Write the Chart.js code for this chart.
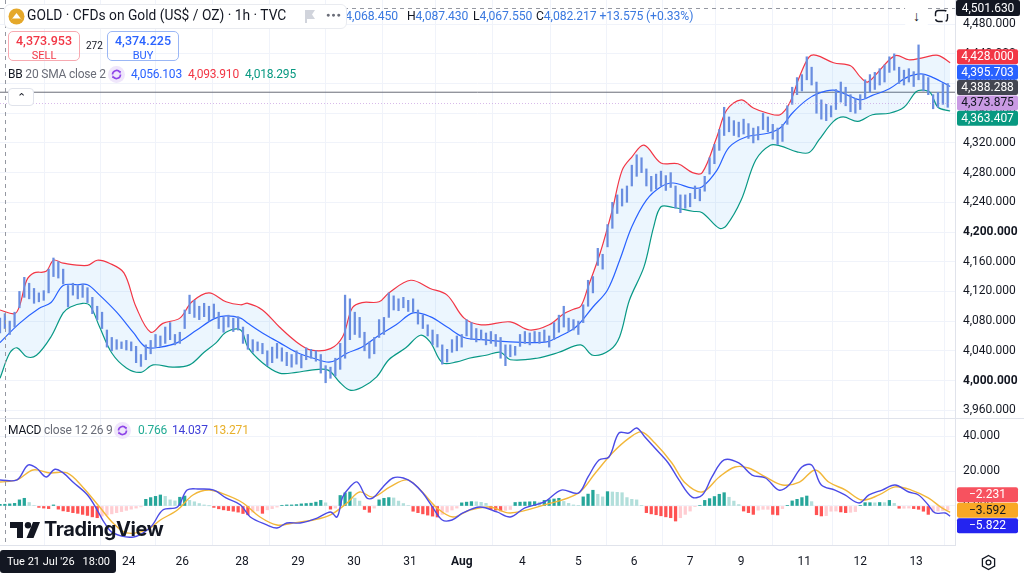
<!DOCTYPE html>
<html>
<head>
<meta charset="utf-8">
<script src="https://cdn.jsdelivr.net/npm/chart.js@4.4.1/dist/chart.umd.min.js"></script>
<style>
html,body{margin:0;padding:0;background:#fff;}
body{width:1024px;height:579px;overflow:hidden;position:relative;font-family:Roboto,"Noto Sans",sans-serif;color:#131722;}
canvas{position:absolute;left:0;}
#c1{top:0;width:1024px;height:418px;}
#c2{top:418px;width:1024px;height:161px;}
.ov{position:absolute;white-space:nowrap;line-height:1;}
.lg{font-size:12px;letter-spacing:-0.2px;}
.blue{color:#2962ff;}
.red{color:#f23645;}
.green{color:#089981;}
.gray{color:#6a6d78;}
.ohlc{font-size:12.2px;letter-spacing:-0.1px;}
.ohlc span{color:#3a79e0;}
</style>
</head>
<body>
<canvas id="c1" width="1024" height="418"></canvas>
<canvas id="c2" width="1024" height="161"></canvas>

<!-- OHLC legend (partly under title box) -->
<div class="ov ohlc" style="left:337px;top:10px;">O<span>4,068.450</span></div>
<div class="ov ohlc" style="left:407px;top:10px;">H<span>4,087.430</span></div>
<div class="ov ohlc" style="left:473px;top:10px;">L<span>4,067.550</span></div>
<div class="ov ohlc" style="left:536px;top:10px;">C<span>4,082.217</span>&nbsp;<span>+13.575 (+0.33%)</span></div>

<!-- title box -->
<div class="ov" style="left:4px;top:4px;width:341px;height:23px;background:#fff;border:1px solid #e9ebf0;border-radius:6px;"></div>
<svg class="ov" style="left:8px;top:8px;" width="17" height="17" viewBox="0 0 17 17">
  <circle cx="8.5" cy="8.5" r="8" fill="#e5a82a"/>
  <path d="M3.5 11.5 L8.5 5 L13.5 11.5 Z" fill="#fff"/>
  <rect x="4" y="10.5" width="9" height="1.6" fill="#e5a82a"/>
</svg>
<div class="ov" style="left:27px;top:9px;font-size:13.8px;color:#131722;">GOLD · CFDs on Gold (US$ / OZ) · 1h · TVC</div>
<svg class="ov" style="left:304px;top:10px;" width="12" height="13" viewBox="0 0 12 13"><path d="M1 0 H11 L8 4.5 L11 9 H3 V13 H1 Z" fill="#d1d4dc"/></svg>
<div class="ov" style="left:326px;top:12px;font-size:7px;color:#6a6d78;letter-spacing:1px;">&#9679;&#9679;&#9679;</div>

<!-- sell / buy -->
<div class="ov" style="left:8px;top:31px;width:70px;height:28px;border:1px solid #f7a9b0;border-radius:5px;text-align:center;">
  <div style="font-size:12.5px;color:#f23645;margin-top:3px;font-weight:500;">4,373.953</div>
  <div style="font-size:11px;color:#f23645;margin-top:2px;">SELL</div>
</div>
<div class="ov" style="left:86px;top:41px;font-size:10px;color:#131722;">272</div>
<div class="ov" style="left:107px;top:31px;width:70px;height:28px;border:1px solid #9bb7f5;border-radius:5px;text-align:center;">
  <div style="font-size:12.5px;color:#2962ff;margin-top:3px;font-weight:500;">4,374.225</div>
  <div style="font-size:11px;color:#2962ff;margin-top:2px;">BUY</div>
</div>

<!-- BB legend -->
<div class="ov lg" style="left:8px;top:68px;"><span style="color:#131722">BB</span> <span class="gray">20 SMA close 2</span></div>
<svg class="ov" style="left:108px;top:66px;" width="17" height="17" viewBox="0 0 17 17">
  <circle cx="8.5" cy="8.5" r="8.5" fill="#efe6fb"/>
  <path d="M4.5 8.5 A4 4 0 0 1 11.8 6.2" fill="none" stroke="#8e44e8" stroke-width="1.6"/>
  <path d="M12.5 8.5 A4 4 0 0 1 5.2 10.8" fill="none" stroke="#8e44e8" stroke-width="1.6"/>
  <path d="M10.2 4.6 L13 5.2 L12.2 7.9 Z" fill="#8e44e8"/>
  <path d="M6.8 12.4 L4 11.8 L4.8 9.1 Z" fill="#8e44e8"/>
</svg>
<div class="ov lg" style="left:131px;top:68px;"><span class="blue">4,056.103</span></div>
<div class="ov lg" style="left:188px;top:68px;"><span class="red">4,093.910</span></div>
<div class="ov lg" style="left:245px;top:68px;"><span class="green">4,018.295</span></div>

<!-- collapse button -->
<div class="ov" style="left:8px;top:88px;width:24px;height:16px;background:#fff;border:1px solid #e0e3eb;border-radius:4px;text-align:center;font-size:11px;line-height:18px;color:#131722;">&#8963;</div>

<!-- MACD legend -->
<div class="ov lg" style="left:8px;top:424px;"><span style="color:#131722">MACD</span> <span class="gray">close 12 26 9</span></div>
<svg class="ov" style="left:114px;top:422px;" width="17" height="17" viewBox="0 0 17 17">
  <circle cx="8.5" cy="8.5" r="8.5" fill="#efe6fb"/>
  <path d="M4.5 8.5 A4 4 0 0 1 11.8 6.2" fill="none" stroke="#8e44e8" stroke-width="1.6"/>
  <path d="M12.5 8.5 A4 4 0 0 1 5.2 10.8" fill="none" stroke="#8e44e8" stroke-width="1.6"/>
  <path d="M10.2 4.6 L13 5.2 L12.2 7.9 Z" fill="#8e44e8"/>
  <path d="M6.8 12.4 L4 11.8 L4.8 9.1 Z" fill="#8e44e8"/>
</svg>
<div class="ov lg" style="left:138px;top:424px;"><span style="color:#22ab94">0.766</span></div>
<div class="ov lg" style="left:172px;top:424px;"><span style="color:#3f3fd8">14.037</span></div>
<div class="ov lg" style="left:213px;top:424px;"><span style="color:#e8b02a">13.271</span></div>

<!-- TradingView watermark -->
<svg class="ov" style="left:10px;top:522px;" width="31" height="16" viewBox="0 0 31 16">
  <path d="M0 0 H13 V16 H7 V6 H0 Z" fill="#131722"/>
  <circle cx="18" cy="3.2" r="3.2" fill="#131722"/>
  <path d="M23 0 H30 L23.5 16 H16.5 Z" fill="#131722"/>
</svg>
<div class="ov" style="left:44px;top:519px;font-size:20px;font-weight:700;font-family:Inter,Roboto,sans-serif;letter-spacing:-0.4px;color:#131722;">TradingView</div>

<!-- top right buttons -->
<div class="ov" style="left:905px;top:5px;width:23px;height:22px;background:#fff;border-radius:4px;text-align:center;font-size:14px;line-height:22px;color:#131722;">&#8595;</div>
<svg class="ov" style="left:934px;top:9px;" width="15" height="14" viewBox="0 0 15 14"><rect x="1.5" y="1.5" width="12" height="11" rx="3" fill="none" stroke="#131722" stroke-width="1.4" stroke-dasharray="8 3"/></svg>

<!-- gear -->
<svg class="ov" style="left:980px;top:554px;" width="17" height="17" viewBox="0 0 17 17">
  <path d="M8.5 1.5 L14.6 5 V12 L8.5 15.5 L2.4 12 V5 Z" fill="none" stroke="#131722" stroke-width="1.3"/>
  <circle cx="8.5" cy="8.5" r="2.4" fill="none" stroke="#131722" stroke-width="1.3"/>
</svg>

<script>
// ---------------- DATA ----------------
const dayTicks = [7, 30, 53, 75, 99.6, 122.6, 145.7, 168.7, 190, 215, 238, 261, 284, 305, 331, 354, 377];
const dayLabels = ['22','23','24','26','28','29','30','31','Aug','4','5','6','7','9','11','12','13'];
const priceTicks = [3960,4000,4040,4080,4120,4160,4200,4240,4280,4320,4360,4400,4440,4480];
const macdTicks = [0, 20, 40];

// price bars: [hour index, low, high]
const priceBars = [[0,4064,4084],[2,4070,4090],[4,4062,4080],[6,4072,4092],[8,4098,4120],[10,4112,4139],[12,4110,4131],[14,4104,4124],[16,4106,4118],[18,4108,4121],[20,4118,4150],[22,4140,4165],[24,4138,4160],[26,4130,4150],[28,4099,4128],[30,4115,4131],[32,4110,4128],[34,4112,4130],[36,4105,4125],[38,4090,4112],[40,4082,4100],[42,4070,4092],[44,4045,4068],[46,4040,4058],[48,4042,4055],[50,4043,4052],[52,4041,4054],[54,4040,4052],[56,4024,4046],[58,4019,4035],[60,4028,4048],[62,4036,4054],[64,4045,4062],[66,4046,4060],[68,4050,4072],[70,4055,4078],[72,4048,4062],[74,4050,4065],[76,4070,4095],[78,4090,4115],[80,4085,4108],[82,4082,4100],[84,4086,4104],[86,4080,4100],[88,4084,4103],[90,4070,4092],[92,4065,4085],[94,4072,4088],[96,4066,4084],[98,4068,4086],[100,4050,4072],[102,4042,4062],[104,4038,4055],[106,4040,4052],[108,4036,4050],[110,4020,4040],[112,4024,4045],[114,4030,4050],[116,4026,4044],[118,4020,4038],[120,4018,4035],[122,4022,4040],[124,4017,4034],[126,4028,4044],[128,4030,4042],[130,4026,4040],[132,4010,4035],[134,3997,4020],[136,4003,4018],[138,4006,4030],[140,4015,4050],[142,4030,4115],[144,4055,4110],[146,4062,4092],[148,4058,4085],[150,4040,4065],[152,4030,4052],[154,4036,4058],[156,4058,4082],[158,4062,4085],[160,4085,4118],[162,4095,4114],[164,4094,4110],[166,4098,4112],[168,4093,4108],[170,4092,4110],[172,4076,4095],[174,4070,4088],[176,4060,4075],[178,4048,4068],[180,4045,4062],[182,4022,4048],[184,4025,4042],[186,4038,4055],[188,4040,4060],[190,4045,4062],[192,4060,4082],[194,4055,4078],[196,4052,4070],[198,4055,4068],[200,4048,4064],[202,4050,4066],[204,4046,4062],[206,4030,4058],[208,4020,4048],[210,4032,4048],[212,4034,4046],[214,4046,4062],[216,4050,4066],[218,4048,4064],[220,4052,4066],[222,4050,4065],[224,4052,4068],[226,4045,4060],[228,4055,4078],[230,4065,4088],[232,4072,4100],[234,4066,4084],[236,4068,4082],[238,4062,4080],[240,4078,4102],[242,4100,4135],[244,4118,4140],[246,4155,4178],[248,4150,4170],[250,4180,4210],[252,4205,4240],[254,4225,4250],[256,4235,4258],[258,4240,4262],[260,4262,4290],[262,4275,4304],[264,4280,4300],[266,4262,4285],[268,4255,4275],[270,4258,4278],[272,4262,4282],[274,4256,4276],[276,4260,4280],[278,4232,4262],[280,4226,4250],[282,4232,4250],[284,4234,4252],[286,4245,4262],[288,4242,4258],[290,4255,4275],[292,4278,4300],[294,4292,4318],[296,4310,4338],[298,4330,4368],[300,4335,4355],[302,4330,4350],[304,4328,4348],[306,4332,4352],[308,4326,4346],[310,4320,4340],[312,4324,4342],[314,4338,4360],[316,4335,4355],[318,4325,4345],[320,4318,4340],[322,4322,4345],[324,4345,4370],[326,4372,4395],[328,4385,4408],[330,4390,4412],[332,4405,4436],[334,4398,4422],[336,4360,4402],[338,4352,4378],[340,4350,4372],[342,4355,4370],[344,4365,4392],[346,4375,4402],[348,4370,4395],[350,4362,4385],[352,4360,4380],[354,4365,4385],[356,4380,4405],[358,4388,4412],[360,4392,4415],[362,4398,4420],[364,4402,4425],[366,4415,4436],[368,4418,4440],[370,4400,4422],[372,4398,4418],[374,4402,4420],[376,4396,4416],[378,4405,4452],[380,4390,4412],[382,4385,4408],[384,4366,4385],[386,4368,4388],[388,4372,4400],[390,4368,4400]];

// Bollinger bands: [hour index, value]
const upperBand = [[0,4095],[6,4090],[8,4100],[11,4135],[14,4145],[19,4147],[22,4162],[26,4158],[36,4155],[40,4162],[45,4158],[51,4145],[56,4099],[62,4065],[67,4077],[74,4084],[79,4106],[86,4118],[93,4106],[99,4102],[102,4104],[108,4095],[115,4072],[122,4052],[128,4041],[136,4043],[141,4059],[145,4098],[149,4105],[156,4106],[160,4118],[169,4135],[177,4124],[184,4115],[191,4084],[198,4075],[210,4079],[218,4068],[226,4075],[232,4090],[236,4096],[239,4100],[242,4126],[247,4172],[252,4230],[256,4283],[260,4301],[265,4317],[272,4293],[279,4292],[285,4280],[289,4280],[295,4328],[299,4364],[305,4378],[310,4367],[316,4360],[321,4358],[325,4374],[329,4409],[333,4436],[336,4438],[343,4428],[350,4424],[354,4409],[357,4402],[361,4414],[366,4432],[369,4438],[374,4432],[380,4435],[386,4438],[391,4428]];
const middleBand = [[0,4051],[8,4077],[16,4097],[21,4105],[26,4128],[32,4129],[36,4129],[41,4115],[48,4092],[55,4064],[60,4045],[66,4045],[73,4051],[81,4068],[88,4083],[93,4087],[99,4084],[102,4077],[108,4064],[115,4051],[122,4038],[129,4030],[136,4025],[143,4037],[149,4045],[156,4061],[163,4075],[170,4091],[177,4086],[184,4072],[191,4058],[198,4055],[210,4052],[218,4051],[225,4052],[230,4059],[237,4072],[244,4099],[250,4122],[255,4162],[260,4207],[266,4243],[272,4261],[277,4266],[285,4259],[289,4261],[295,4283],[300,4314],[307,4328],[316,4333],[321,4340],[326,4360],[332,4378],[337,4387],[343,4391],[349,4384],[354,4378],[359,4384],[366,4393],[373,4408],[379,4413],[384,4408],[391,4396]];
const lowerBand = [[0,4003],[4,4037],[7,4044],[11,4032],[15,4034],[21,4059],[26,4091],[29,4099],[34,4104],[37,4101],[41,4072],[46,4037],[52,4017],[58,4011],[63,4021],[71,4018],[78,4021],[84,4038],[89,4051],[93,4065],[99,4068],[102,4045],[108,4024],[115,4010],[122,4011],[128,4014],[135,4014],[140,3997],[144,3987],[149,3991],[155,4005],[160,4028],[167,4044],[173,4061],[177,4052],[182,4024],[188,4025],[193,4030],[200,4034],[206,4038],[210,4028],[221,4030],[230,4038],[239,4048],[244,4034],[251,4041],[255,4059],[259,4108],[265,4153],[269,4207],[272,4234],[277,4233],[285,4228],[289,4226],[296,4205],[299,4209],[305,4243],[311,4297],[317,4317],[321,4316],[328,4308],[333,4307],[337,4324],[343,4349],[347,4355],[353,4349],[359,4358],[366,4360],[372,4368],[377,4389],[380,4391],[383,4387],[386,4368],[391,4363]];

// MACD (12,26,9): [hour index, value]
const macdLine = [[0,14.9],[7,14.9],[11.5,23.4],[15,21.7],[19,16.6],[22.6,21],[26,18.9],[30,13.7],[36,6.3],[40,-2.3],[43,-9.7],[46.5,-15.4],[55,-17.7],[62,-12],[67,-2.3],[73,-0.6],[77,9.1],[82,9.7],[88,9.1],[93,4.6],[99,0.6],[103,-6.3],[110,-10.9],[114,-12.6],[118,-9.7],[123.5,-9.7],[130.5,-6.9],[136,-3.4],[138.7,-6.3],[141,5.1],[144,10.9],[147,13.7],[151,4.6],[153.5,4.6],[157.6,10.9],[161.7,16],[166,16],[170,13.1],[174,7.4],[178,-0.6],[182,-8],[186,-8],[190.5,-4],[197.5,-0.6],[204.5,-3.4],[210,-6.3],[216,-1.1],[224,2.3],[231,9.1],[238,7.4],[242,16.6],[246.5,26.3],[250.6,28],[254.7,41.7],[258.8,41.7],[262,44.6],[265.4,39.4],[269.5,33.1],[275,24.6],[279.4,14.9],[284.8,5.1],[289,6.3],[293,16.6],[298,26.3],[304,24.6],[309.5,17.7],[315,16],[320.5,9.1],[324.7,12],[330,22.3],[334,23.4],[338,12],[343.6,9.1],[347.7,6.3],[353.5,1.7],[357.6,6.3],[363,9.1],[368.3,12],[374,8],[378,6.3],[382,0.6],[384.8,-4],[389,-4],[391,-5.822]];
const signalLine = [[0,13.7],[7,14.9],[13.6,20.6],[20.6,18.9],[27.6,18.9],[34,10.9],[41,-0.6],[46.5,-9.7],[52,-15.4],[60.5,-13.7],[66,-8],[73,-2.3],[79.4,6.3],[86,9.1],[93,6.3],[100,1.7],[107,-6.3],[114,-10.9],[120.6,-9.7],[129,-8],[136,-5.1],[142.8,1.7],[148,8],[153.5,5.1],[160.5,10.9],[167.5,14.9],[173,9.1],[179.8,-1.1],[186.4,-6.3],[193.4,-2.3],[201.6,-0.6],[210,-4],[224,0.6],[238,7.4],[245,18.9],[252,30.3],[259,38.9],[264,42.3],[269.5,36],[276.5,24.6],[282,13.1],[289,8],[296,16.6],[302.5,22.3],[308,21.7],[315,16.6],[322,12],[329,13.7],[335.5,20.6],[341,13.7],[348,9.1],[354.7,3.4],[361.7,6.3],[368.3,10.9],[375,9.1],[382,4.6],[387.6,-1.1],[391,-3.592]];
const macdHist = [[0,1],[2,1],[4,1.2],[6,1.5],[8,3.5],[10,4.4],[12,2],[14,0.3],[16,-0.8],[18,-1.2],[20,-1.5],[22,0.6],[24,-1.8],[26,-2.8],[28,-3.2],[30,-3.8],[32,-4.2],[34,-4.8],[36,-5.4],[38,-6.2],[40,-6.7],[42,-5.8],[44,-5.2],[46,-4.5],[48,-3.8],[50,-3.2],[52,-2.5],[54,-1.8],[56,-1.2],[58,-0.5],[60,3.8],[62,4.8],[64,5.5],[66,6.3],[68,5.5],[70,3.5],[72,2.9],[74,5.0],[76,5.7],[78,3.2],[80,2.4],[82,1.4],[84,0.6],[86,0.1],[88,-0.8],[90,-1.6],[92,-2.2],[94,-2.6],[96,-3.0],[98,-3.5],[100,-4.3],[102,-5.0],[104,-3.5],[106,-2.8],[108,-4.2],[110,-2.2],[112,-1.5],[114,-0.6],[116,0.4],[118,0.6],[120,0.6],[122,0.8],[124,1.2],[126,1.4],[128,1.6],[130,2.2],[132,3.2],[134,1.8],[136,-1.8],[138,-1.2],[140,6.0],[142,7.5],[144,8.0],[146,4.5],[148,2.8],[150,-2.0],[152,-3.6],[154,-1.2],[156,3.5],[158,4.4],[160,4.8],[162,4.6],[164,2.8],[166,1.4],[168,0.3],[170,-3.0],[172,-3.8],[174,-4.5],[176,-5.2],[178,-5.8],[180,-6.3],[182,-4.8],[184,-3.5],[186,-2.3],[188,-1.2],[190,1.8],[192,2.2],[194,2.5],[196,2.4],[198,2.1],[200,1.5],[202,-2.0],[204,-2.4],[206,-2.8],[208,-2.5],[210,-2.0],[212,2.0],[214,2.2],[216,2.3],[218,2.4],[220,2.5],[222,2.2],[224,3.2],[226,3.6],[228,4.0],[230,4.4],[232,2.6],[234,1.5],[236,0.6],[238,0.2],[240,5.2],[242,6.8],[244,9.0],[246,6.7],[248,5.2],[250,8.2],[252,8.0],[254,7.8],[256,7.6],[258,4.8],[260,3.8],[262,3.5],[264,0.2],[266,-3.8],[268,-4.5],[270,-5.0],[272,-5.6],[274,-6.2],[276,-6.7],[278,-8.6],[280,-6.7],[282,-4.8],[284,-2.9],[286,-0.2],[288,0.3],[290,3.2],[292,4.2],[294,5.4],[296,6.7],[298,7.6],[300,5.0],[302,2.8],[304,0.8],[306,-2.9],[308,-3.8],[310,-4.8],[312,-2.4],[314,-1.9],[316,-1.9],[318,-4.8],[320,-5.1],[322,-1.5],[324,0.2],[326,2.9],[328,3.8],[330,4.8],[332,5.7],[334,2.5],[336,-5.0],[338,-5.7],[340,-5.5],[342,-3.0],[344,-2.9],[346,-3.4],[348,-3.8],[350,-3.6],[352,-3.2],[354,0.2],[356,1.9],[358,1.9],[360,1.8],[362,2.0],[364,1.9],[366,3.2],[368,1.5],[370,-1.3],[372,-1.3],[374,-1.2],[376,-1.5],[378,-1.9],[380,-3.0],[382,-4.8],[384,-3.4],[386,-2.9],[388,-2.6],[390,-2.2]];

// reference levels
const priceLineLevel = 4388.288;
const lastPrice = 4373.875;
const mainAxisValues = [4428.000, 4395.703, 4388.288, 4373.875, 4363.407];
const macdAxisValues = [-2.231, -3.592, -5.822];
const crosshairPrice = 4501.630;
const crosshairIndex = 2;
const crosshairTimeText = ["Tue 21 Jul '26", "18:00"];

// ---------------- STYLE ----------------
const X_MIN = 0, X_MAX = 393;
const mainAxisStyles = [
  {bg:'#f23645', fg:'#ffffff'}, {bg:'#2962ff', fg:'#ffffff'}, {bg:'#434651', fg:'#ffffff'},
  {bg:'#c99ae3', fg:'#131722'}, {bg:'#089981', fg:'#ffffff'}];
const macdAxisStyles = [{bg:'#f7525f', fg:'#ffffff'}, {bg:'#f9a825', fg:'#131722'}, {bg:'#2424f0', fg:'#ffffff'}];
const GRID = '#f0f3fa';
const FONT = 'Roboto, "Noto Sans", sans-serif';

const fmt = v => {
  const s = Math.abs(v).toLocaleString('en-US', {minimumFractionDigits:3, maximumFractionDigits:3});
  return (v < 0 ? '\u2212' : '') + s;
};
const toXY = arr => arr.map(p => ({x: p[0], y: p[1]}));

function spread(ys, gap) {
  const r = ys.slice();
  for (let it = 0; it < 80; it++) {
    for (let i = 1; i < r.length; i++) {
      const d = r[i] - r[i-1];
      if (d < gap) { const p = (gap - d) / 2; r[i-1] -= p; r[i] += p; }
    }
  }
  return r;
}
function labelBox(ctx, x, yc, w, h, bg, fg, text) {
  ctx.fillStyle = bg;
  const y = yc - h/2, r = 2;
  ctx.beginPath();
  ctx.moveTo(x + r, y); ctx.lineTo(x + w - r, y); ctx.quadraticCurveTo(x + w, y, x + w, y + r);
  ctx.lineTo(x + w, y + h - r); ctx.quadraticCurveTo(x + w, y + h, x + w - r, y + h);
  ctx.lineTo(x + r, y + h); ctx.quadraticCurveTo(x, y + h, x, y + h - r);
  ctx.lineTo(x, y + r); ctx.quadraticCurveTo(x, y, x + r, y); ctx.closePath(); ctx.fill();
  ctx.fillStyle = fg; ctx.font = '12px ' + FONT; ctx.textAlign = 'center'; ctx.textBaseline = 'middle';
  ctx.fillText(text, x + w/2, yc + 0.5);
}
function dash(ctx, x1, y1, x2, y2) { ctx.beginPath(); ctx.moveTo(x1, y1); ctx.lineTo(x2, y2); ctx.stroke(); }

const mainOverlay = {
  id: 'mainOverlay',
  afterDatasetsDraw(chart) {
    const {ctx, chartArea: a, scales: {x, y}} = chart;
    ctx.save();
    ctx.lineWidth = 1;
    ctx.strokeStyle = 'rgba(190,140,220,0.6)'; ctx.setLineDash([1, 2]);
    const yl = Math.round(y.getPixelForValue(lastPrice)) + 0.5;
    dash(ctx, a.left, yl, a.right, yl);
    ctx.strokeStyle = '#9598a1'; ctx.setLineDash([4, 4]);
    const yh = Math.round(y.getPixelForValue(crosshairPrice)) + 0.5;
    dash(ctx, a.left, yh, a.right, yh);
    const xv = Math.round(x.getPixelForValue(crosshairIndex)) + 0.5;
    dash(ctx, xv, a.top, xv, a.bottom);
    ctx.restore();
  },
  afterDraw(chart) {
    const {ctx, chartArea: a, scales: {y}} = chart;
    ctx.save();
    const ys = spread(mainAxisValues.map(v => y.getPixelForValue(v)), 15.4).map(p => p - 3.5);
    mainAxisValues.forEach((v, i) => labelBox(ctx, a.right + 2, ys[i], 61, 15, mainAxisStyles[i].bg, mainAxisStyles[i].fg, fmt(v)));
    labelBox(ctx, a.right + 1, y.getPixelForValue(crosshairPrice), 64, 16, '#131722', '#ffffff', fmt(crosshairPrice));
    ctx.restore();
  }
};
const macdOverlay = {
  id: 'macdOverlay',
  afterDatasetsDraw(chart) {
    const {ctx, chartArea: a, scales: {x}} = chart;
    ctx.save();
    ctx.strokeStyle = '#9598a1'; ctx.setLineDash([4, 4]); ctx.lineWidth = 1;
    const xv = Math.round(x.getPixelForValue(crosshairIndex)) + 0.5;
    dash(ctx, xv, a.top, xv, a.bottom);
    ctx.setLineDash([]); ctx.strokeStyle = '#e0e3eb';
    dash(ctx, 0, 0.5, chart.width, 0.5);
    ctx.restore();
  },
  afterDraw(chart) {
    const {ctx, chartArea: a, scales: {x, y}} = chart;
    ctx.save();
    const ys = spread(macdAxisValues.map(v => y.getPixelForValue(v)), 15.5).map(p => p - 2.5);
    macdAxisValues.forEach((v, i) => labelBox(ctx, a.right + 2, ys[i], 61, 15, macdAxisStyles[i].bg, macdAxisStyles[i].fg, fmt(v)));
    // crosshair time label
    const w = 116, h = 23;
    const cx = x.getPixelForValue(crosshairIndex);
    const left = Math.max(0, cx - w/2);
    const top = a.bottom + 5;
    ctx.fillStyle = '#131722';
    ctx.beginPath(); ctx.roundRect ? ctx.roundRect(left, top, w, h, 3) : ctx.rect(left, top, w, h); ctx.fill();
    ctx.fillStyle = '#ffffff'; ctx.font = '11px ' + FONT; ctx.textBaseline = 'middle';
    ctx.textAlign = 'left'; ctx.fillText(crosshairTimeText[0], left + 7, top + h/2 + 0.5);
    ctx.textAlign = 'right'; ctx.fillText(crosshairTimeText[1], left + w - 6, top + h/2 + 0.5);
    ctx.restore();
  }
};

const xCommon = (showLabels) => ({
  type: 'linear', min: X_MIN, max: X_MAX, offset: false,
  afterBuildTicks: s => { s.ticks = dayTicks.map(v => ({value: v})); },
  ticks: {
    display: showLabels, autoSkip: false, maxRotation: 0, minRotation: 0, padding: 10, color: '#131722',
    font: ctx => ({family: FONT, size: 12, weight: (dayLabels[ctx.index] === 'Aug') ? 'bold' : 'normal'}),
    callback: (v, i) => dayLabels[i]
  },
  grid: {color: GRID, drawTicks: false},
  border: {display: showLabels, color: '#e0e3eb'},
  afterFit: s => { s.height = showLabels ? 34 : 0; s.paddingLeft = 0; s.paddingRight = 0; }
});

new Chart(document.getElementById('c1'), {
  type: 'bar',
  data: {
    datasets: [
      {type: 'line', label: 'Upper', data: toXY(upperBand), borderColor: '#f23645', borderWidth: 1.2, pointRadius: 0, tension: 0.35,
       fill: 2, backgroundColor: 'rgba(33,150,243,0.085)', order: 2},
      {type: 'line', label: 'Basis', data: toXY(middleBand), borderColor: '#2962ff', borderWidth: 1.2, pointRadius: 0, tension: 0.35, fill: false, order: 1},
      {type: 'line', label: 'Lower', data: toXY(lowerBand), borderColor: '#089981', borderWidth: 1.2, pointRadius: 0, tension: 0.35, fill: false, order: 2},
      {type: 'line', label: 'Price line', data: [{x: X_MIN, y: priceLineLevel}, {x: X_MAX, y: priceLineLevel}], borderColor: '#6a6d78', borderWidth: 1, pointRadius: 0, fill: false, order: 3},
      {type: 'bar', label: 'GOLD', data: priceBars.map(b => ({x: b[0], y: [b[1], b[2]]})), backgroundColor: '#6a8ee0', barThickness: 1.6, order: 0}
    ]
  },
  options: {
    responsive: false, animation: false, events: [],
    layout: {padding: 0},
    plugins: {legend: {display: false}, tooltip: {enabled: false}},
    scales: {
      x: xCommon(false),
      y: {
        position: 'right', min: 3949.5, max: 4512.5,
        afterBuildTicks: s => { s.ticks = priceTicks.map(v => ({value: v})); },
        ticks: {padding: 8, color: '#131722', callback: v => fmt(v),
          font: ctx => ({family: FONT, size: 12, weight: (ctx.tick && (ctx.tick.value === 4000 || ctx.tick.value === 4200)) ? 'bold' : 'normal'})},
        grid: {color: GRID, drawTicks: false},
        border: {color: '#e0e3eb'},
        afterFit: s => { s.width = 69; s.paddingTop = 0; s.paddingBottom = 0; }
      }
    }
  },
  plugins: [mainOverlay]
});

const histColors = macdHist.map((p, i) => {
  const prev = i > 0 ? macdHist[i-1][1] : p[1];
  if (p[1] >= 0) return p[1] >= prev ? '#26a69a' : '#b2dfdb';
  return p[1] < prev ? '#ff5252' : '#ffcdd2';
});

new Chart(document.getElementById('c2'), {
  type: 'bar',
  data: {
    datasets: [
      {type: 'bar', label: 'Histogram', data: toXY(macdHist), backgroundColor: histColors, barThickness: 2.6, order: 2},
      {type: 'line', label: 'MACD', data: toXY(macdLine), borderColor: '#4b4be6', borderWidth: 1.4, pointRadius: 0, tension: 0.35, fill: false, order: 0},
      {type: 'line', label: 'Signal', data: toXY(signalLine), borderColor: '#f2b739', borderWidth: 1.4, pointRadius: 0, tension: 0.35, fill: false, order: 1}
    ]
  },
  options: {
    responsive: false, animation: false, events: [],
    layout: {padding: 0},
    plugins: {legend: {display: false}, tooltip: {enabled: false}},
    scales: {
      x: xCommon(true),
      y: {
        position: 'right', min: -22.3, max: 50.3,
        afterBuildTicks: s => { s.ticks = macdTicks.map(v => ({value: v})); },
        ticks: {padding: 8, color: '#131722', font: {family: FONT, size: 12}, callback: v => fmt(v)},
        grid: {color: GRID, drawTicks: false},
        border: {color: '#e0e3eb'},
        afterFit: s => { s.width = 69; s.paddingTop = 0; s.paddingBottom = 0; }
      }
    }
  },
  plugins: [macdOverlay]
});
</script>
</body>
</html>
